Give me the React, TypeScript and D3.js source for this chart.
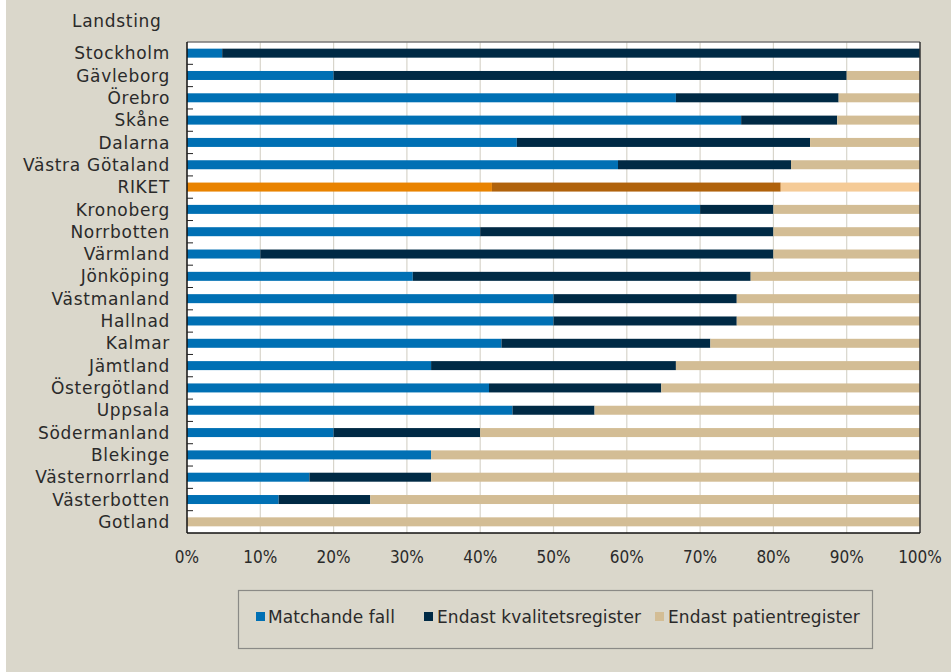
import React from "react";
import * as d3 from "d3";

const regions = [
  "Stockholm", "Gävleborg", "Örebro", "Skåne", "Dalarna", "Västra Götaland", "RIKET",
  "Kronoberg", "Norrbotten", "Värmland", "Jönköping", "Västmanland", "Hallnad", "Kalmar",
  "Jämtland", "Östergötland", "Uppsala", "Södermanland", "Blekinge", "Västernorrland",
  "Västerbotten", "Gotland",
];
const matchande = [4.8, 20, 66.7, 75.6, 45, 58.8, 41.6, 70, 40, 10, 30.8, 50, 50, 42.9, 33.3, 41.2, 44.4, 20, 33.3, 16.7, 12.5, 0];
const kvalitet = [95.2, 70, 22.2, 13.1, 40, 23.6, 39.4, 10, 40, 70, 46.1, 25, 25, 28.5, 33.4, 23.5, 11.2, 20, 0, 16.6, 12.5, 0];
const patient = [0, 10, 11.1, 11.3, 15, 17.6, 19, 20, 20, 20, 23.1, 25, 25, 28.6, 33.3, 35.3, 44.4, 60, 66.7, 66.7, 75, 100];
const seriesNames = ["Matchande fall", "Endast kvalitetsregister", "Endast patientregister"];
const xTicks = [0, 10, 20, 30, 40, 50, 60, 70, 80, 90, 100];

const colors = ["#0070b4", "#002a45", "#d3bd95"];
const riketColors = ["#e98300", "#b0620b", "#f5cb97"];

const W = 951;
const H = 672;
const plot = { left: 187, right: 920, top: 42, bottom: 533 };
const labelFont = "'DejaVu Sans', sans-serif";
const tickFont = "'Liberation Sans Narrow', 'DejaVu Sans Condensed', sans-serif";
const textColor = "#2a2a2a";

export default function App() {
  const x = d3.scaleLinear().domain([0, 100]).range([plot.left, plot.right]);
  const y = d3.scaleBand().domain(regions).range([plot.top, plot.bottom]).paddingInner(0).paddingOuter(0);
  const barH = 9;

  const rows = regions.map((r, i) => {
    const vals = [matchande[i], kvalitet[i], patient[i]];
    let acc = 0;
    const segs = vals.map((v, k) => {
      const s = { x0: acc, x1: acc + v, k };
      acc += v;
      return s;
    });
    return { r, segs };
  });

  const legendItems = [
    { sq: 256, tx: 268 },
    { sq: 424, tx: 437 },
    { sq: 655, tx: 668 },
  ];

  return (
    <svg width={W} height={H} style={{ position: "absolute", left: 0, top: 0 }}>
      <rect x={0} y={0} width={W} height={H} fill="#ffffff" />
      <rect x={6} y={0} width={W - 6} height={H} fill="#dad7cb" />

      <text x={72} y={27} fontFamily={labelFont} fontSize={17} letterSpacing={0.7} fill={textColor}>Landsting</text>

      {/* plot area */}
      <rect x={plot.left} y={plot.top} width={plot.right - plot.left} height={plot.bottom - plot.top} fill="#ffffff" />
      {xTicks.slice(1, -1).map((t) => (
        <line key={t} x1={x(t)} x2={x(t)} y1={plot.top} y2={plot.bottom} stroke="#d8d5cb" strokeWidth={1.2} />
      ))}

      {rows.map(({ r, segs }) =>
        segs.filter((s) => s.x1 > s.x0).map((s) => (
          <rect
            key={r + s.k}
            x={x(s.x0)}
            y={(y(r) as number) + y.bandwidth() / 2 - barH / 2}
            width={x(s.x1) - x(s.x0)}
            height={barH}
            fill={r === "RIKET" ? riketColors[s.k] : colors[s.k]}
          />
        ))
      )}

      {/* borders */}
      <line x1={plot.left} x2={plot.right} y1={plot.top} y2={plot.top} stroke="#777" strokeWidth={1.5} />
      <line x1={plot.right} x2={plot.right} y1={plot.top} y2={plot.bottom} stroke="#333" strokeWidth={1.5} />
      <line x1={plot.left} x2={plot.left} y1={plot.top} y2={plot.bottom} stroke="#111" strokeWidth={1.5} />
      <line x1={plot.left} x2={plot.right} y1={plot.bottom} y2={plot.bottom} stroke="#111" strokeWidth={1.5} />

      {regions.slice(1).map((r) => (
        <line key={r} x1={plot.left} x2={plot.left + 6} y1={y(r)} y2={y(r)} stroke="#222" strokeWidth={1} />
      ))}

      {regions.map((r) => (
        <text
          key={r}
          x={170}
          y={(y(r) as number) + y.bandwidth() / 2}
          dy="0.36em"
          textAnchor="end"
          fontFamily={labelFont}
          fontSize={17}
          letterSpacing={0.7}
          fill={textColor}
        >
          {r}
        </text>
      ))}

      {xTicks.map((t) => (
        <text key={t} x={x(t)} y={563} textAnchor="middle" fontFamily={tickFont} fontSize={17} fill={textColor}>
          {t}%
        </text>
      ))}

      {/* legend */}
      <rect x={238.5} y={590.5} width={634} height={58} fill="none" stroke="#8a8a86" strokeWidth={1.2} />
      {legendItems.map((it, i) => (
        <g key={i}>
          <rect x={it.sq} y={612} width={9} height={9} fill={colors[i]} />
          <text x={it.tx} y={617} dy="0.36em" fontFamily={labelFont} fontSize={17} letterSpacing={0.1} fill={textColor}>
            {seriesNames[i]}
          </text>
        </g>
      ))}
    </svg>
  );
}
